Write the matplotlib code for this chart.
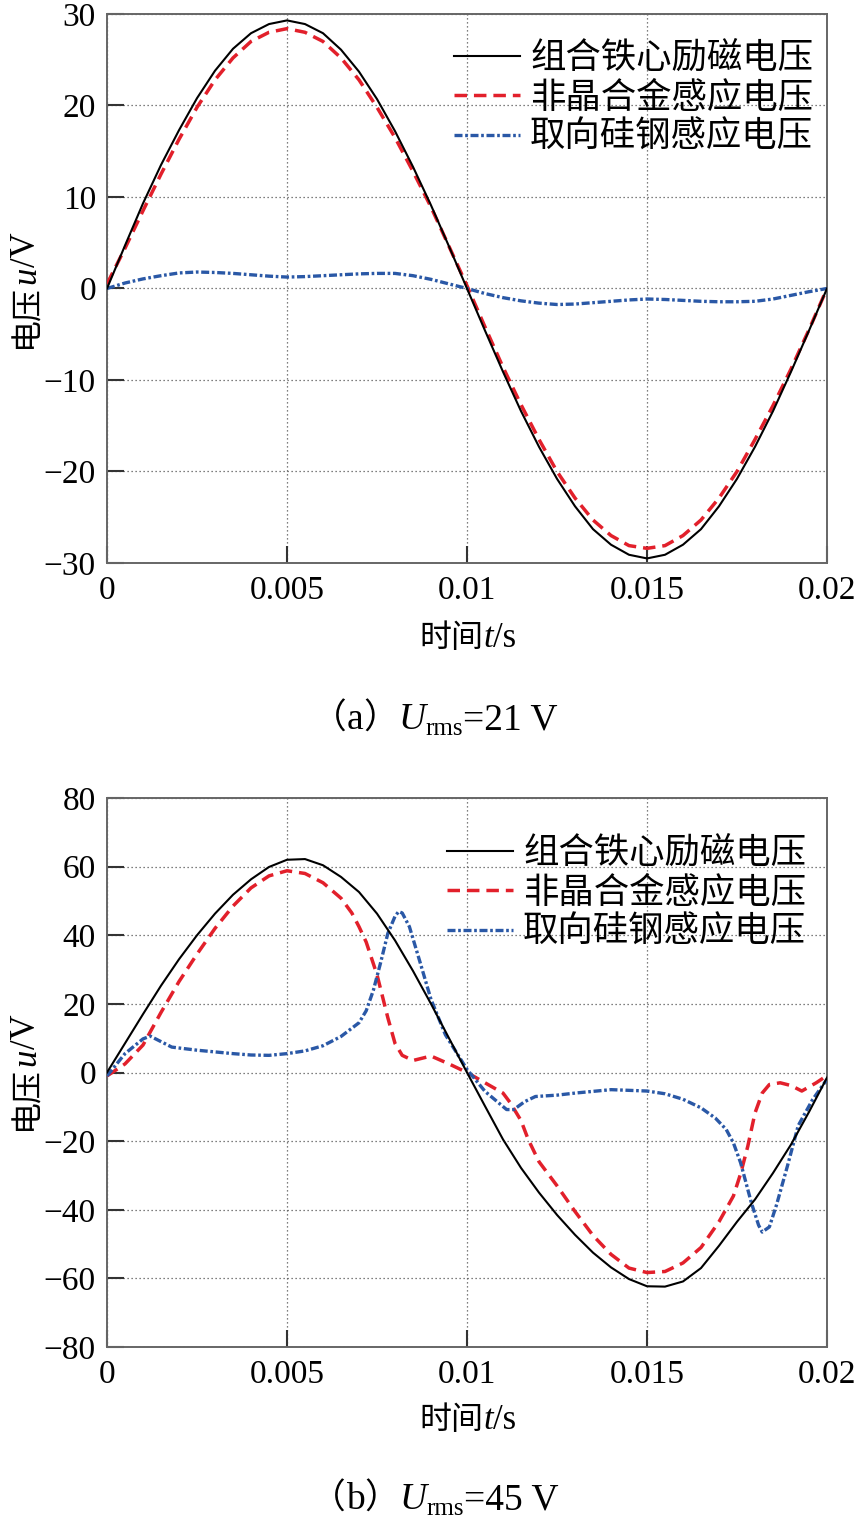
import matplotlib
matplotlib.use("Agg")
import matplotlib.pyplot as plt
from matplotlib.lines import Line2D
from matplotlib.font_manager import FontProperties
from matplotlib.transforms import IdentityTransform

W, H = 861, 1524
SERIF = "Liberation Serif"
CJK = "Noto Sans CJK SC"
plt.rcParams["font.family"] = [SERIF, CJK]
plt.rcParams["axes.unicode_minus"] = True

RED = "#e2202b"
BLUE = "#2a58a6"
GRID = "#555555"

# ---------------------------------------------------------------- data
LABELS = ["组合铁心励磁电压", "非晶合金感应电压", "取向硅钢感应电压"]
XTICKS = [0, 0.005, 0.01, 0.015, 0.02]
XTICK_LABELS = ["0", "0.005", "0.01", "0.015", "0.02"]

# (a) Urms = 21 V
T_A = [0.0, 0.0005, 0.001, 0.0015, 0.002, 0.0025, 0.003, 0.0035, 0.004, 0.0045,
       0.005, 0.0055, 0.006, 0.0065, 0.007, 0.0075, 0.008, 0.0085, 0.009, 0.0095,
       0.01, 0.0105, 0.011, 0.0115, 0.012, 0.0125, 0.013, 0.0135, 0.014, 0.0145,
       0.015, 0.0155, 0.016, 0.0165, 0.017, 0.0175, 0.018, 0.0185, 0.019, 0.0195,
       0.02]
A_CORE = [0.0, 4.7, 9.3, 13.5, 17.3, 20.8, 23.8, 26.2, 27.9, 28.9,
          29.3, 28.9, 27.9, 26.1, 23.7, 20.7, 17.2, 13.3, 9.1, 4.6,
          0.0, -4.6, -9.1, -13.4, -17.3, -20.8, -23.8, -26.3, -28.0, -29.1,
          -29.5, -29.1, -28.0, -26.3, -23.8, -20.8, -17.3, -13.4, -9.1, -4.6,
          0.0]
A_AMOR = [0.5, 4.4, 8.5, 12.5, 16.3, 19.8, 22.8, 25.2, 27.0, 28.0,
          28.4, 28.0, 27.0, 25.2, 22.8, 19.8, 16.5, 12.8, 8.9, 4.6,
          0.3, -4.2, -8.6, -12.7, -16.5, -20.0, -22.9, -25.3, -27.0, -28.1,
          -28.4, -28.1, -27.0, -25.3, -22.9, -20.0, -16.5, -12.8, -8.8, -4.5,
          0.0]
A_SIGS = [0.0, 0.6, 1.05, 1.4, 1.7, 1.8, 1.75, 1.65, 1.5, 1.35,
          1.25, 1.3, 1.4, 1.5, 1.6, 1.65, 1.65, 1.4, 1.0, 0.5,
          0.0, -0.55, -1.0, -1.35, -1.6, -1.75, -1.7, -1.55, -1.4, -1.25,
          -1.15, -1.2, -1.3, -1.4, -1.45, -1.45, -1.4, -1.15, -0.75, -0.35,
          0.0]

# (b) Urms = 45 V
T_B_CORE = [0.0, 0.0005, 0.001, 0.0015, 0.002, 0.0025, 0.003, 0.0035, 0.004, 0.0045,
            0.005, 0.0055, 0.006, 0.0065, 0.007, 0.0075, 0.008, 0.0085, 0.009, 0.0095,
            0.01, 0.0105, 0.011, 0.0115, 0.012, 0.0125, 0.013, 0.0135, 0.014, 0.0145,
            0.015, 0.0155, 0.016, 0.0165, 0.017, 0.0175, 0.018, 0.0185, 0.019, 0.0195,
            0.02]
B_CORE = [0.0, 8.5, 17.0, 25.3, 33.0, 40.0, 46.3, 51.8, 56.3, 59.9,
          62.0, 62.2, 60.4, 57.0, 52.6, 46.3, 38.5, 29.6, 20.0, 10.0,
          0.0, -9.8, -19.5, -27.8, -35.0, -41.5, -47.3, -52.5, -56.8, -60.2,
          -62.3, -62.4, -60.9, -57.0, -50.5, -43.5, -37.0, -29.3, -21.0, -11.5,
          -1.5]
T_B_AMOR = [0.0, 0.0005, 0.001, 0.0015, 0.002, 0.0025, 0.003, 0.0035, 0.004, 0.0045,
            0.005, 0.0055, 0.006, 0.0065, 0.0068, 0.007, 0.0072, 0.0075, 0.0078, 0.008,
            0.0082, 0.0085, 0.009, 0.0095, 0.01, 0.0105, 0.011, 0.0112, 0.0115, 0.0117,
            0.012, 0.0125, 0.013, 0.0135, 0.014, 0.0145, 0.015, 0.0155, 0.016, 0.0165,
            0.017, 0.0174, 0.0176, 0.0178, 0.018, 0.0182, 0.0184, 0.0187, 0.019, 0.0193,
            0.0197, 0.02]
B_AMOR = [-1.0, 2.5, 8.0, 17.5, 26.5, 34.5, 42.0, 48.5, 53.8, 57.3,
          58.8, 58.0, 55.3, 50.8, 46.5, 42.5, 38.0, 28.5, 16.0, 8.5,
          5.0, 3.5, 4.8, 2.5, 0.0, -3.0, -6.0, -8.8, -14.0, -19.5,
          -26.0, -33.0, -40.5, -47.5, -53.0, -57.0, -58.3, -58.0, -55.5, -51.0,
          -43.5, -36.0, -29.5, -21.5, -11.8, -6.0, -3.5, -3.0, -3.8, -5.4,
          -3.0, -0.9]
T_B_SIGS = [0.0, 0.0005, 0.001, 0.0012, 0.0015, 0.0018, 0.0025, 0.003, 0.0035, 0.004,
            0.0045, 0.005, 0.0055, 0.006, 0.0065, 0.007, 0.0072, 0.0074, 0.0076, 0.0078,
            0.008, 0.0081, 0.0082, 0.0084, 0.0087, 0.009, 0.0094, 0.01, 0.0105, 0.0111,
            0.0113, 0.0116, 0.0119, 0.0125, 0.013, 0.014, 0.015, 0.0155, 0.016, 0.0165,
            0.0169, 0.0172, 0.0174, 0.0176, 0.0179, 0.0181, 0.0182, 0.0184, 0.0186, 0.0189,
            0.0192, 0.0196, 0.02]
B_SIGS = [-1.0, 5.5, 9.8, 10.6, 9.0, 7.4, 6.5, 6.0, 5.5, 5.1,
          5.0, 5.5, 6.3, 7.8, 10.5, 14.5, 18.0, 24.0, 32.0, 40.5,
          45.5, 46.9, 46.5, 42.5, 32.0, 21.3, 11.0, 0.9, -5.5, -10.8,
          -10.8, -8.5, -7.0, -6.6, -6.0, -5.0, -5.4, -6.2, -7.8, -10.3,
          -13.3, -16.6, -20.5, -26.3, -38.0, -44.5, -46.5, -45.0, -38.5, -27.3,
          -15.5, -7.9, -2.0]

YTICKS_A = [-30, -20, -10, 0, 10, 20, 30]
YTICKS_B = [-80, -60, -40, -20, 0, 20, 40, 60, 80]


# ---------------------------------------------------------------- helpers
def rich(fig, px, py, parts, rotation=0):
    """Centred run of text pieces; px, py in image pixels (y down), py = baseline."""
    r = fig.canvas.get_renderer()
    widths = []
    for s, kw in parts:
        kw = {k: v for k, v in kw.items() if k != "dy"}
        t = fig.text(0, 0, s, **kw)
        widths.append(t.get_window_extent(r).width)
        t.remove()
    pos = -sum(widths) / 2
    fy = H - py
    for (s, kw), w in zip(parts, widths):
        dy = kw.get("dy", 0)
        kw = {k: v for k, v in kw.items() if k != "dy"}
        if rotation == 0:
            x, y = px + pos, fy - dy
        else:
            x, y = px + dy, fy + pos
        fig.text(x, y, s, transform=IdentityTransform(), ha="left", va="baseline",
                 rotation=rotation, rotation_mode="anchor", **kw)
        pos += w


def panel(ax, series, ylim, yticks, leg_xy):
    (tc, core), (ta, amor), (ts, sigs) = series
    ax.plot(ta, amor, color=RED, lw=2.5, dashes=(3.6, 2.0), zorder=3)
    ax.plot(ts, sigs, color=BLUE, lw=2.4, dashes=(2.4, 0.8, 0.8, 0.8), zorder=3)
    ax.plot(tc, core, color="black", lw=1.5, zorder=4)
    ax.set_xlim(0, 0.02)
    ax.set_ylim(*ylim)
    ax.set_xticks(XTICKS)
    ax.set_xticklabels(XTICK_LABELS)
    ax.set_yticks(yticks)
    ax.grid(True, color=GRID, lw=0.9, ls=(0, (1, 2.2)))
    ax.tick_params(direction="in", length=12, width=1.5, color="#333333",
                   labelsize=24, top=False, right=False)
    ax.tick_params(axis="x", pad=9)
    ax.tick_params(axis="y", pad=8)
    for sp in ax.spines.values():
        sp.set_color("#666666")
        sp.set_linewidth(1.4)
    handles = [
        Line2D([], [], color="black", lw=1.5),
        Line2D([], [], color=RED, lw=2.5, dashes=(3.6, 2.0)),
        Line2D([], [], color=BLUE, lw=2.4, dashes=(2.4, 0.8, 0.8, 0.8)),
    ]
    ax.legend(handles, LABELS, loc="upper left",
              bbox_to_anchor=(leg_xy[0] / W, 1 - leg_xy[1] / H),
              bbox_transform=ax.figure.transFigure, frameon=False,
              borderpad=0, borderaxespad=0, handlelength=1.85,
              handletextpad=0.3, labelspacing=0.1,
              prop=FontProperties(family=CJK, size=25.5))


# ---------------------------------------------------------------- figure
fig = plt.figure(figsize=(W / 100, H / 100), dpi=100)
ax_a = fig.add_axes([107 / W, 1 - 563 / H, 720 / W, 549 / H])
ax_b = fig.add_axes([107 / W, 1 - 1347 / H, 720 / W, 549 / H])

panel(ax_a, [(T_A, A_CORE), (T_A, A_AMOR), (T_A, A_SIGS)], (-30, 30), YTICKS_A,
      (454, 40))
panel(ax_b, [(T_B_CORE, B_CORE), (T_B_AMOR, B_AMOR), (T_B_SIGS, B_SIGS)],
      (-80, 80), YTICKS_B, (447, 835))

cjk = dict(family=[CJK], size=23)
rm = dict(family=[SERIF], size=25)
it = dict(family=[SERIF], size=25, style="italic")

for ycen, xl_base in ((290, 647), (1072, 1429)):
    rich(fig, 35, ycen, [("电压", cjk), ("u", it), ("/V", rm)], rotation=90)
    rich(fig, 468, xl_base, [("时间", cjk), ("t", it), ("/s", rm)])

for tag, val, base in (("a", "21", 729), ("b", "45", 1509)):
    cap = dict(family=[SERIF], size=27)
    par = dict(family=[CJK], size=25)
    rich(fig, 435, base, [("（", par), (tag, cap), ("）", par),
                          ("U", dict(family=[SERIF], size=27, style="italic")),
                          ("rms", dict(family=[SERIF], size=18, dy=6)),
                          ("=" + val + " V", cap)])

fig.savefig("out.png", dpi=100)
